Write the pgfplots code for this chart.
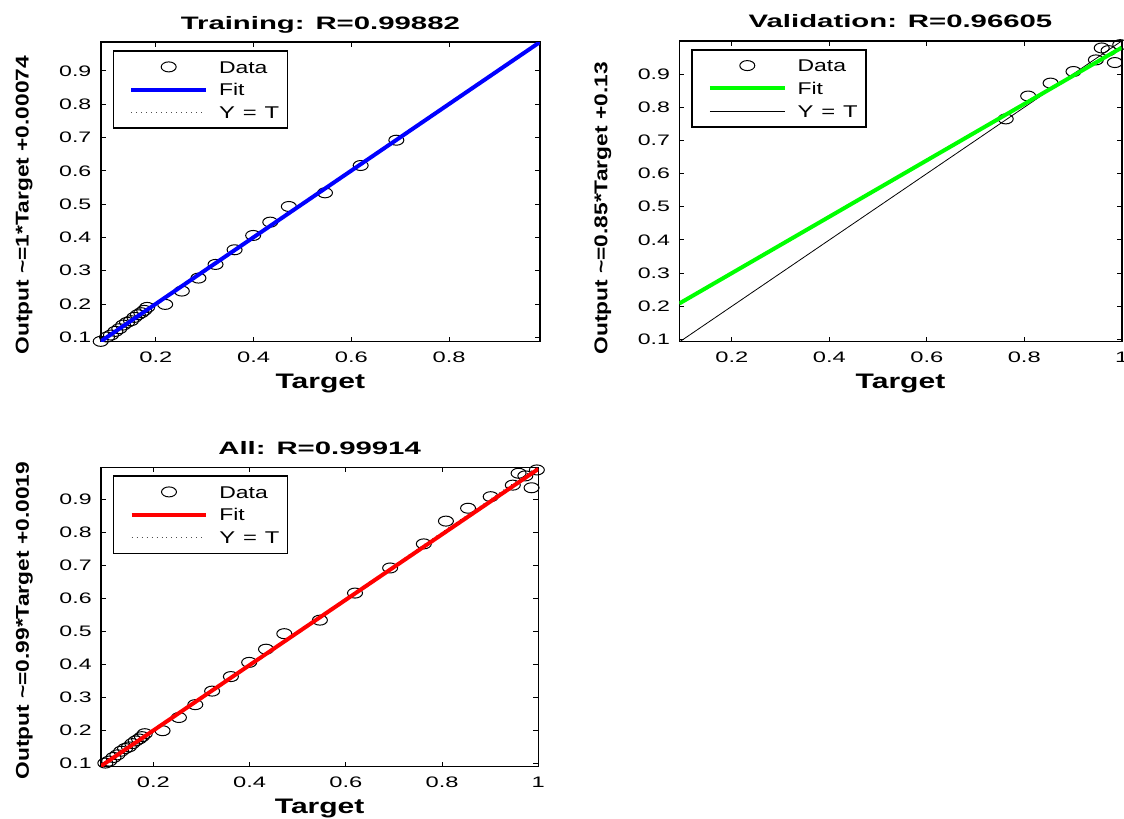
\documentclass[border=0pt]{standalone}
\usepackage{pgfplots}
\pgfplotsset{compat=1.18}
\usepackage{pgfplotstable}
\usepackage{fontspec}
\setmainfont{Liberation Sans}

\pgfplotstableread{
x y
0.087 0.088
0.100 0.101
0.108 0.107
0.117 0.118
0.125 0.126
0.133 0.137
0.141 0.145
0.149 0.150
0.156 0.160
0.163 0.168
0.170 0.174
0.176 0.181
0.182 0.190
0.219 0.199
0.253 0.239
0.287 0.278
0.322 0.319
0.361 0.363
0.399 0.406
0.434 0.446
0.472 0.493
0.546 0.534
0.619 0.616
0.692 0.692
}\trainData

\pgfplotstableread{
x y
0.762 0.765
0.808 0.834
0.854 0.873
0.901 0.908
0.947 0.943
0.959 0.979
0.973 0.971
0.986 0.935
0.997 0.989
}\valData

\pgfplotstableread{
x y
0.087 0.088
0.100 0.101
0.108 0.107
0.117 0.118
0.125 0.126
0.133 0.137
0.141 0.145
0.149 0.150
0.156 0.160
0.163 0.168
0.170 0.174
0.176 0.181
0.182 0.190
0.219 0.199
0.253 0.239
0.287 0.278
0.322 0.319
0.361 0.363
0.399 0.406
0.434 0.446
0.472 0.493
0.546 0.534
0.619 0.616
0.692 0.692
0.762 0.765
0.808 0.834
0.854 0.873
0.901 0.908
0.947 0.943
0.959 0.979
0.973 0.971
0.986 0.935
0.997 0.989
}\allData

\pgfplotsset{
  datalegend/.style={legend image code/.code={\path (0bp,0bp) (45.35bp,0bp); \draw[##1] plot coordinates {(26.7bp,0bp)};}},
  linelegend/.style={legend image code/.code={\path (0bp,0bp); \draw[##1] (8bp,0bp) -- (45.35bp,0bp);}},
  datastyle/.style={only marks, mark=o, mark size=2.5bp, mark options={xscale=1.5, line width=0.5bp, black, solid}, datalegend},
  mat/.style={
    scale only axis,
    anchor=south west,
    axis line style={line width=0.8bp},
    every tick/.style={black, line width=0.5bp},
    major tick length=2.5bp,
    tick align=inside,
    xtick pos=both, ytick pos=both,
    ytick={0.1,0.2,0.3,0.4,0.5,0.6,0.7,0.8,0.9},
    tick label style={font=\fontsize{7.6bp}{9bp}\selectfont, inner sep=0pt},
    xticklabel style={anchor=north, yshift=-5bp},
    yticklabel style={anchor=east, xshift=-4.5bp},
    xticklabel={\scalebox{1.56}[1]{\pgfmathprintnumber[assume math mode=true]{\tick}}},
    yticklabel={\scalebox{1.52}[1]{\pgfmathprintnumber[assume math mode=true]{\tick}}},
    every axis title/.style={font=\bfseries\fontsize{9bp}{10bp}\selectfont, at={(0.5,1)}, anchor=base, yshift=6.6bp, inner sep=0pt},
    every axis x label/.style={font=\bfseries\fontsize{10.5bp}{12bp}\selectfont, at={(0.5,0)}, anchor=base, yshift=-23.2bp, inner sep=0pt},
    every axis y label/.style={font=\bfseries\fontsize{9.25bp}{11bp}\selectfont, at={([xshift=-36bp,yshift=-6.65bp]axis description cs:0,0)}, rotate=90, anchor=base west, inner sep=0pt},
    clip mode=individual,
    legend style={at={(0,1)}, anchor=north west, xshift=6.3bp, yshift=-4.4bp,
      draw=black, line width=0.8bp, fill=white, inner xsep=0pt, inner ysep=2.2bp, outer sep=0pt,
      row sep=0pt, column sep=5.5bp, font=\fontsize{8.5bp}{10bp}\selectfont,
      nodes={inner sep=0pt, text height=8.8bp, text depth=2.6bp, text width=34.15bp, align=left},
      cells={anchor=west}},
  }
}

\begin{document}
\begin{tikzpicture}
\path[use as bounding box] (0bp,0bp) rectangle (562bp,409.5bp);

% Training
\begin{axis}[mat, at={(50.35bp,238.65bp)}, width=219.65bp, height=149.7bp,
  xmin=0.087, xmax=0.986, ymin=0.087, ymax=0.986,
  xtick={0.2,0.4,0.6,0.8},
  title={\scalebox{1.63}[1]{Training: R=0.99882}},
  xlabel={\scalebox{1.43}[1]{Target}},
  ylabel={\scalebox{1.23}[1]{Output \textasciitilde=1*Target +0.00074}}]
\addplot[datastyle] table {\trainData};
\addlegendentry{\scalebox{1.35}[1]{Data}}
\addplot[black, dotted, line width=0.4bp, forget plot] coordinates {(0.087,0.087) (0.986,0.986)};
\addplot[blue, line width=2bp, linelegend] coordinates {(0.087,0.08774) (0.986,0.98674)};
\addlegendentry{\scalebox{1.35}[1]{Fit}}
\addlegendimage{black!70, dotted, line width=0.5bp, linelegend}
\addlegendentry{\scalebox{1.4}[1]{Y = T}}
\end{axis}

% Validation
\begin{axis}[mat, at={(339.65bp,238.65bp)}, width=221.2bp, height=150.35bp,
  xmin=0.092, xmax=1.0, ymin=0.093, ymax=1.0,
  xtick={0.2,0.4,0.6,0.8,1},
  title={\scalebox{1.63}[1]{Validation: R=0.96605}},
  xlabel={\scalebox{1.43}[1]{Target}},
  ylabel={\scalebox{1.23}[1]{Output \textasciitilde=0.85*Target +0.13}}]
\addplot[datastyle] table {\valData};
\addlegendentry{\scalebox{1.35}[1]{Data}}
\addplot[black, line width=0.4bp, forget plot] coordinates {(0.092,0.092) (1.0,1.0)};
\addplot[green, line width=2bp, linelegend] coordinates {(0.092,0.2082) (1.0,0.98)};
\addlegendentry{\scalebox{1.35}[1]{Fit}}
\addlegendimage{black, line width=0.4bp, linelegend}
\addlegendentry{\scalebox{1.4}[1]{Y = T}}
\end{axis}

% All
\begin{axis}[mat, at={(50.5bp,26.15bp)}, width=218.65bp, height=149.7bp,
  xmin=0.091, xmax=1.0, ymin=0.09, ymax=0.997,
  xtick={0.2,0.4,0.6,0.8,1},
  title={\scalebox{1.63}[1]{All: R=0.99914}},
  xlabel={\scalebox{1.43}[1]{Target}},
  ylabel={\scalebox{1.23}[1]{Output \textasciitilde=0.99*Target +0.0019}}]
\addplot[datastyle] table {\allData};
\addlegendentry{\scalebox{1.35}[1]{Data}}
\addplot[black, dotted, line width=0.4bp, forget plot] coordinates {(0.091,0.091) (1.0,1.0)};
\addplot[red, line width=2bp, linelegend] coordinates {(0.091,0.09199) (1.0,0.9919)};
\addlegendentry{\scalebox{1.35}[1]{Fit}}
\addlegendimage{black!70, dotted, line width=0.5bp, linelegend}
\addlegendentry{\scalebox{1.4}[1]{Y = T}}
\end{axis}
\end{tikzpicture}
\end{document}
